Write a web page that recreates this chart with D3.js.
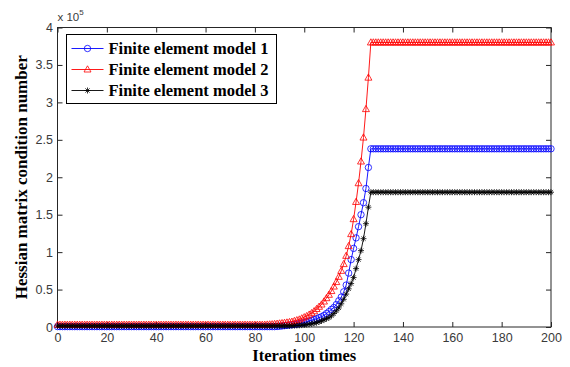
<!DOCTYPE html>
<html>
<head>
<meta charset="utf-8">
<script src="https://cdn.jsdelivr.net/npm/d3@7"></script>
<style>
  body { margin: 0; background: #fff; }
  svg { display: block; }
</style>
</head>
<body>
<div id="chart"></div>
<script>
// values are in units of 1e5, one per iteration 0..200
const iterations = d3.range(0, 201);

const model1 = [
  0.005, 0.005, 0.005, 0.005, 0.005, 0.005, 0.005, 0.005, 0.005, 0.005,
  0.005, 0.005, 0.005, 0.005, 0.005, 0.005, 0.005, 0.005, 0.005, 0.005,
  0.005, 0.005, 0.005, 0.005, 0.005, 0.005, 0.005, 0.005, 0.005, 0.005,
  0.005, 0.005, 0.005, 0.005, 0.005, 0.005, 0.005, 0.005, 0.005, 0.005,
  0.005, 0.005, 0.005, 0.005, 0.005, 0.005, 0.005, 0.005, 0.005, 0.005,
  0.005, 0.005, 0.005, 0.005, 0.005, 0.005, 0.005, 0.005, 0.005, 0.005,
  0.005, 0.005, 0.005, 0.005, 0.005, 0.005, 0.005, 0.005, 0.005, 0.005,
  0.005, 0.005, 0.005, 0.005, 0.005, 0.005, 0.005, 0.005, 0.005, 0.005,
  0.005, 0.005, 0.005, 0.005, 0.005, 0.005, 0.005, 0.005, 0.005,
  0.007, 0.01, 0.014, 0.018, 0.022, 0.026, 0.03, 0.035, 0.04, 0.045,
  0.052, 0.06, 0.07, 0.08, 0.09, 0.1, 0.11, 0.125, 0.137, 0.155,
  0.18, 0.205, 0.235, 0.26, 0.3, 0.35, 0.4, 0.47, 0.56, 0.72,
  0.9, 1.05, 1.19, 1.34, 1.5, 1.66, 1.85, 2.13,
  2.38, 2.38, 2.38, 2.38, 2.38, 2.38, 2.38, 2.38, 2.38, 2.38,
  2.38, 2.38, 2.38, 2.38, 2.38, 2.38, 2.38, 2.38, 2.38, 2.38,
  2.38, 2.38, 2.38, 2.38, 2.38, 2.38, 2.38, 2.38, 2.38, 2.38,
  2.38, 2.38, 2.38, 2.38, 2.38, 2.38, 2.38, 2.38, 2.38, 2.38,
  2.38, 2.38, 2.38, 2.38, 2.38, 2.38, 2.38, 2.38, 2.38, 2.38,
  2.38, 2.38, 2.38, 2.38, 2.38, 2.38, 2.38, 2.38, 2.38, 2.38,
  2.38, 2.38, 2.38, 2.38, 2.38, 2.38, 2.38, 2.38, 2.38, 2.38,
  2.38, 2.38, 2.38, 2.38
];

const model2 = [
  0.03, 0.03, 0.03, 0.03, 0.03, 0.03, 0.03, 0.03, 0.03, 0.03,
  0.03, 0.03, 0.03, 0.03, 0.03, 0.03, 0.03, 0.03, 0.03, 0.03,
  0.03, 0.03, 0.03, 0.03, 0.03, 0.03, 0.03, 0.03, 0.03, 0.03,
  0.03, 0.03, 0.03, 0.03, 0.03, 0.03, 0.03, 0.03, 0.03, 0.03,
  0.03, 0.03, 0.03, 0.03, 0.03, 0.03, 0.03, 0.03, 0.03, 0.03,
  0.03, 0.03, 0.03, 0.03, 0.03, 0.03, 0.03, 0.03, 0.03, 0.03,
  0.03, 0.03, 0.03, 0.03, 0.03, 0.03, 0.03, 0.03, 0.03, 0.03,
  0.03, 0.03, 0.03, 0.03, 0.03, 0.03, 0.03, 0.03, 0.03, 0.03,
  0.03, 0.03, 0.03, 0.03, 0.03,
  0.032, 0.034, 0.036, 0.04, 0.043, 0.047, 0.051, 0.055, 0.06, 0.065,
  0.07, 0.08, 0.09, 0.1, 0.115, 0.13, 0.145, 0.165, 0.185, 0.21,
  0.24, 0.27, 0.3, 0.34, 0.385, 0.43, 0.48, 0.54, 0.6, 0.67,
  0.75, 0.84, 0.95, 1.08, 1.24, 1.44, 1.67, 1.92, 2.21, 2.53,
  2.91, 3.33,
  3.8, 3.8, 3.8, 3.8, 3.8, 3.8, 3.8, 3.8, 3.8, 3.8,
  3.8, 3.8, 3.8, 3.8, 3.8, 3.8, 3.8, 3.8, 3.8, 3.8,
  3.8, 3.8, 3.8, 3.8, 3.8, 3.8, 3.8, 3.8, 3.8, 3.8,
  3.8, 3.8, 3.8, 3.8, 3.8, 3.8, 3.8, 3.8, 3.8, 3.8,
  3.8, 3.8, 3.8, 3.8, 3.8, 3.8, 3.8, 3.8, 3.8, 3.8,
  3.8, 3.8, 3.8, 3.8, 3.8, 3.8, 3.8, 3.8, 3.8, 3.8,
  3.8, 3.8, 3.8, 3.8, 3.8, 3.8, 3.8, 3.8, 3.8, 3.8,
  3.8, 3.8, 3.8, 3.8
];

const model3 = [
  0.015, 0.015, 0.015, 0.015, 0.015, 0.015, 0.015, 0.015, 0.015, 0.015,
  0.015, 0.015, 0.015, 0.015, 0.015, 0.015, 0.015, 0.015, 0.015, 0.015,
  0.015, 0.015, 0.015, 0.015, 0.015, 0.015, 0.015, 0.015, 0.015, 0.015,
  0.015, 0.015, 0.015, 0.015, 0.015, 0.015, 0.015, 0.015, 0.015, 0.015,
  0.015, 0.015, 0.015, 0.015, 0.015, 0.015, 0.015, 0.015, 0.015, 0.015,
  0.015, 0.015, 0.015, 0.015, 0.015, 0.015, 0.015, 0.015, 0.015, 0.015,
  0.015, 0.015, 0.015, 0.015, 0.015, 0.015, 0.015, 0.015, 0.015, 0.015,
  0.015, 0.015, 0.015, 0.015, 0.015, 0.015, 0.015, 0.015, 0.015, 0.015,
  0.015, 0.015, 0.015, 0.015, 0.015, 0.015, 0.015, 0.015, 0.015, 0.015,
  0.015, 0.015, 0.015, 0.015, 0.015,
  0.016, 0.018, 0.02, 0.022, 0.025, 0.028, 0.032, 0.037, 0.043, 0.05,
  0.058, 0.068, 0.08, 0.095, 0.11, 0.125, 0.15, 0.18, 0.215, 0.255,
  0.31, 0.37, 0.44, 0.51, 0.58, 0.66, 0.78, 0.9, 1.02, 1.18,
  1.38, 1.6,
  1.8, 1.8, 1.8, 1.8, 1.8, 1.8, 1.8, 1.8, 1.8, 1.8,
  1.8, 1.8, 1.8, 1.8, 1.8, 1.8, 1.8, 1.8, 1.8, 1.8,
  1.8, 1.8, 1.8, 1.8, 1.8, 1.8, 1.8, 1.8, 1.8, 1.8,
  1.8, 1.8, 1.8, 1.8, 1.8, 1.8, 1.8, 1.8, 1.8, 1.8,
  1.8, 1.8, 1.8, 1.8, 1.8, 1.8, 1.8, 1.8, 1.8, 1.8,
  1.8, 1.8, 1.8, 1.8, 1.8, 1.8, 1.8, 1.8, 1.8, 1.8,
  1.8, 1.8, 1.8, 1.8, 1.8, 1.8, 1.8, 1.8, 1.8, 1.8,
  1.8, 1.8, 1.8, 1.8
];

const seriesNames = ["Finite element model 1", "Finite element model 2", "Finite element model 3"];
const xTicks = [0, 20, 40, 60, 80, 100, 120, 140, 160, 180, 200];
const yTicks = [0, 0.5, 1, 1.5, 2, 2.5, 3, 3.5, 4];

const width = 570, height = 367;
const margin = {top: 27.5, right: 19, bottom: 40, left: 57.5};
const axisColor = "#262626";

const series = [
  {name: seriesNames[0], values: model1, color: "#0000ff", marker: "circle"},
  {name: seriesNames[1], values: model2, color: "#ff0000", marker: "triangle"},
  {name: seriesNames[2], values: model3, color: "#000000", marker: "star"}
];

const markerPath = {
  circle: "M3.2,0A3.2,3.2 0 1,1 -3.2,0A3.2,3.2 0 1,1 3.2,0Z",
  triangle: "M0,-3.7L3.5,2.5L-3.5,2.5Z",
  star: "M-3,0H3M0,-3V3M-2.1,-2.1L2.1,2.1M-2.1,2.1L2.1,-2.1"
};

const x = d3.scaleLinear().domain([0, 200]).range([margin.left, width - margin.right]);
const y = d3.scaleLinear().domain([0, 4]).range([height - margin.bottom, margin.top]);

const svg = d3.select("#chart").append("svg")
  .attr("width", width)
  .attr("height", height);

svg.append("rect").attr("width", width).attr("height", height).attr("fill", "#fff");

// axes with inward ticks, mirrored like a matlab box
const tickStyle = g => {
  g.select(".domain").remove();
  g.selectAll(".tick line").attr("stroke", axisColor);
  g.selectAll(".tick text")
    .attr("fill", "#3a3a3a")
    .style("font-family", "'Liberation Sans', Arial, sans-serif")
    .style("font-size", "12.5px");
};

svg.append("g")
  .attr("transform", `translate(0,${height - margin.bottom})`)
  .call(d3.axisBottom(x).tickValues(xTicks).tickSizeInner(-5).tickPadding(6))
  .call(tickStyle);

svg.append("g")
  .attr("transform", `translate(0,${margin.top})`)
  .call(d3.axisTop(x).tickValues(xTicks).tickSizeInner(-5).tickFormat(""))
  .call(tickStyle);

svg.append("g")
  .attr("transform", `translate(${margin.left},0)`)
  .call(d3.axisLeft(y).tickValues(yTicks).tickSizeInner(-5).tickPadding(4.5).tickFormat(d3.format("")))
  .call(tickStyle);

svg.append("g")
  .attr("transform", `translate(${width - margin.right},0)`)
  .call(d3.axisRight(y).tickValues(yTicks).tickSizeInner(-5).tickFormat(""))
  .call(tickStyle);

svg.append("rect")
  .attr("x", x(0)).attr("y", y(4))
  .attr("width", x(200) - x(0)).attr("height", y(0) - y(4))
  .attr("fill", "none")
  .attr("stroke", axisColor)
  .attr("stroke-width", 1);

// exponent label
const expo = svg.append("text")
  .attr("x", x(0))
  .attr("y", 21)
  .attr("fill", "#3a3a3a")
  .style("font-family", "'Liberation Sans', Arial, sans-serif")
  .style("font-size", "11.5px");
expo.append("tspan").text("x 10");
expo.append("tspan").attr("dy", -6).style("font-size", "8px").text("5");

// series
const line = d3.line().x((d, i) => x(iterations[i])).y(d => y(d));

series.forEach(s => {
  const g = svg.append("g");
  g.append("path")
    .datum(s.values)
    .attr("fill", "none")
    .attr("stroke", s.color)
    .attr("stroke-width", 0.9)
    .attr("d", line);
  g.selectAll("path.mk")
    .data(s.values)
    .join("path")
    .attr("class", "mk")
    .attr("transform", (d, i) => `translate(${x(iterations[i])},${y(d)})`)
    .attr("d", markerPath[s.marker])
    .attr("fill", "none")
    .attr("stroke", s.color)
    .attr("stroke-width", 0.8);
});

// axis titles
const titleFont = "'Liberation Serif', 'Times New Roman', serif";
svg.append("text")
  .attr("x", (x(0) + x(200)) / 2)
  .attr("y", 361)
  .attr("text-anchor", "middle")
  .style("font-family", titleFont)
  .style("font-weight", "bold")
  .style("font-size", "16.5px")
  .text("Iteration times");

svg.append("text")
  .attr("transform", `translate(27,${(y(0) + y(4)) / 2}) rotate(-90)`)
  .attr("text-anchor", "middle")
  .style("font-family", titleFont)
  .style("font-weight", "bold")
  .style("font-size", "17px")
  .text("Hessian matrix condition number");

// legend
const legend = svg.append("g").attr("transform", "translate(66.5,34.5)");
legend.append("rect")
  .attr("width", 210).attr("height", 69)
  .attr("fill", "#fff")
  .attr("stroke", "#000")
  .attr("stroke-width", 1);

const rows = legend.selectAll("g.row")
  .data(series)
  .join("g")
  .attr("class", "row")
  .attr("transform", (d, i) => `translate(0,${14 + i * 21})`);

rows.append("line")
  .attr("x1", 5).attr("x2", 37)
  .attr("stroke", d => d.color)
  .attr("stroke-width", 0.9);
rows.append("path")
  .attr("transform", "translate(21,0)")
  .attr("d", d => markerPath[d.marker])
  .attr("fill", "none")
  .attr("stroke", d => d.color)
  .attr("stroke-width", 0.8);
rows.append("text")
  .attr("x", 42)
  .attr("dy", "0.35em")
  .style("font-family", titleFont)
  .style("font-weight", "bold")
  .style("font-size", "16.5px")
  .text(d => d.name);
</script>
</body>
</html>
